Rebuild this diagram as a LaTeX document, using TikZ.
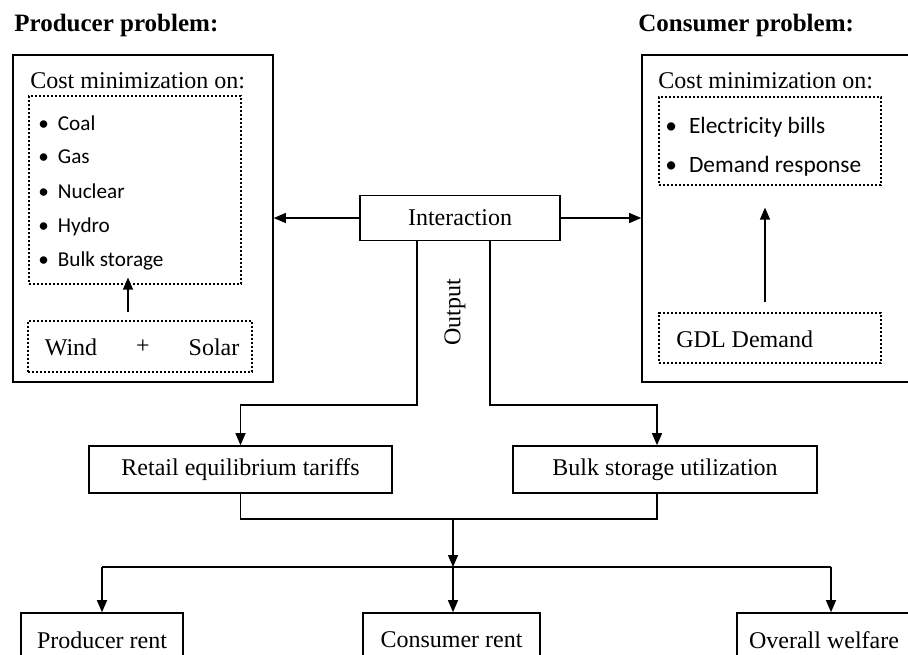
\documentclass[tikz,border=0pt]{standalone}
\usepackage{fontspec}
\setmainfont{Liberation Serif}
\newfontfamily\calfont{Carlito}
\usetikzlibrary{arrows.meta}

\begin{document}
\begin{tikzpicture}[x=0.5pt,y=-0.5pt,
  box/.style={draw,line width=0.8pt,inner sep=0pt,font=\fontsize{12}{14}\selectfont},
  dotbox/.style={draw,line width=0.6pt,dash pattern=on 1.2pt off 0.8pt,inner sep=0pt},
  arw/.style={line width=0.65pt,-{Triangle[length=6pt,width=5pt]}},
  lbl/.style={inner sep=0pt,font=\fontsize{12}{14}\selectfont},
  ttl/.style={inner sep=0pt,anchor=west,font=\fontsize{12.5}{15}\selectfont\bfseries},
  item/.style={inner sep=0pt,anchor=west}]
  \useasboundingbox (0,0) rectangle (908,654);
  \clip (0,0) rectangle (908,654);

  % producer side
  \node[ttl] (ptitle) at (14,25) {Producer problem:};
  \node[box,minimum width=130pt,minimum height=163.5pt] (prod) at (143,218.5) {};
  \node[lbl,anchor=west] (pcost) at (30,81) {Cost minimization on:};
  \node[dotbox,minimum width=106pt,minimum height=94pt] (pfuel) at (135,190) {};
  \foreach \y/\lab in {123/Coal,157/Gas,191/Nuclear,227/Hydro,261/Bulk storage}
    \node[item,font=\calfont\fontsize{10.6}{12}\selectfont] (pitem\y) at (38,\y) {\textbullet\hspace{4.5pt}\lab};
  \node[dotbox,minimum width=112pt,minimum height=25.5pt] (renew) at (140,346.5) {};
  \node[lbl] (wind) at (71,347) {Wind};
  \node[lbl] (plus) at (143,347) {+};
  \node[lbl] (solar) at (214,347) {Solar};
  \draw[arw,shorten <=4pt,shorten >=-3.5pt] ([xshift=-6pt]renew.north) -- ([xshift=-6pt]renew.north |- pfuel.south);

  % consumer side
  \node[ttl] (ctitle) at (638,25) {Consumer problem:};
  \node[box,minimum width=140pt,minimum height=163.5pt] (cons) at (782,218.5) {};
  \node[lbl,anchor=west] (ccost) at (658,81) {Cost minimization on:};
  \node[dotbox,minimum width=111pt,minimum height=44pt] (cbill) at (770,141) {};
  \foreach \y/\lab in {127/Electricity bills,166/Demand response}
    \node[item,font=\calfont\fontsize{11.7}{13}\selectfont] (citem\y) at (665,\y) {\textbullet\hspace{6pt}\lab};
  \node[dotbox,minimum width=111pt,minimum height=25pt] (gdl) at (770,338) {};
  \node[lbl,anchor=west] (gdltxt) at (676,339) {GDL Demand};
  \draw[arw,shorten <=5pt,shorten >=11pt] ([xshift=-2.5pt]gdl.north) -- ([xshift=-2.5pt]gdl.north |- cbill.south);

  % interaction
  \node[box,minimum width=100pt,minimum height=22.5pt] (inter) at (460,218) {Interaction};
  \draw[arw] (inter.west) -- (inter.west -| prod.east);
  \draw[arw] (inter.east) -- (inter.east -| cons.west);

  % output
  \node[box,minimum width=151.5pt,minimum height=23.5pt] (retail) at (240.5,469.5) {Retail equilibrium tariffs};
  \node[box,minimum width=152pt,minimum height=23.5pt] (bulk) at (665,469.5) {Bulk storage utilization};
  \node[lbl,rotate=90] (outlbl) at (455,312) {Output};
  \coordinate (outL) at (417,405);
  \coordinate (outR) at (490,405);
  \draw[arw] (outL |- inter.south) -- (outL) -| (retail.north);
  \draw[arw] (outR |- inter.south) -- (outR) -| ([xshift=-4pt]bulk.north);

  % results
  \node[box,minimum width=81pt,minimum height=27pt] (prent) at (102,640) {Producer rent};
  \node[box,minimum width=88.5pt,minimum height=27pt] (crent) at (451.5,640) {Consumer rent};
  \node[box,minimum width=87pt,minimum height=27pt] (welf) at (824,640) {Overall welfare};
  \coordinate (join) at (453,519);
  \coordinate (split) at (453,567);
  \coordinate (wtop) at ([xshift=3.5pt]welf.north);
  \draw[line width=0.65pt] (retail.south) |- (join) -| ([xshift=-4pt]bulk.south);
  \draw[arw] (join) -- (split);
  \draw[line width=0.65pt] (split -| prent.north) -- (split -| wtop);
  \draw[arw] (split -| prent.north) -- (prent.north);
  \draw[arw] (split) -- (split |- crent.north);
  \draw[arw] (split -| wtop) -- (wtop);
\end{tikzpicture}
\end{document}
